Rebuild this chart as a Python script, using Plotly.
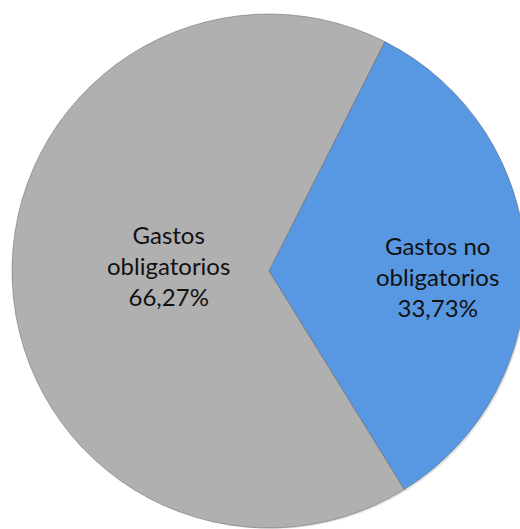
import plotly.graph_objects as go

# Distribución del gasto
labels = ["Gastos no obligatorios", "Gastos obligatorios"]
values = [33.73, 66.27]
names_wrapped = ["Gastos no<br>obligatorios", "Gastos<br>obligatorios"]
colors = ["#5898E2", "#B0B0B0"]
# label centre points for each slice, in pixels from the top-left corner
label_xy = [(437, 276), (168, 265)]

W, H = 540, 529

fig = go.Figure()

# soft drop shadow underneath the pie
fig.add_trace(go.Pie(
    labels=labels, values=values, sort=False, direction="clockwise",
    rotation=26.8, textinfo="none", hoverinfo="skip",
    marker=dict(colors=["rgba(0,0,0,0.10)"] * 2, line=dict(width=0)),
    domain=dict(x=[14 / W, 530 / W], y=[0.0, (529 - 18) / H]),
    showlegend=False,
))

fig.add_trace(go.Pie(
    labels=labels, values=values, sort=False,
    direction="clockwise", rotation=26.8,
    textinfo="none",
    marker=dict(colors=colors, line=dict(color="rgba(90,90,90,0.45)", width=1)),
    domain=dict(x=[12 / W, 526 / W], y=[1 / H, (529 - 14) / H]),
    showlegend=False,
))

total = sum(values)
for name, v, (px, py) in zip(names_wrapped, values, label_xy):
    pct = f"{100 * v / total:.2f}".replace(".", ",")
    fig.add_annotation(
        x=px / W, y=1 - py / H, xref="paper", yref="paper",
        text=f"{name}<br>{pct}%", showarrow=False,
        xanchor="center", yanchor="middle", align="center",
        font=dict(family="Lato", size=24, color="#111111"),
    )

fig.update_layout(
    width=W, height=H, autosize=False,
    margin=dict(l=0, r=0, t=0, b=0),
    paper_bgcolor="white", plot_bgcolor="white",
    separators=",.",
)

fig.write_html("out.html", post_script="document.body.style.overflow='hidden';document.body.style.margin='0';")
